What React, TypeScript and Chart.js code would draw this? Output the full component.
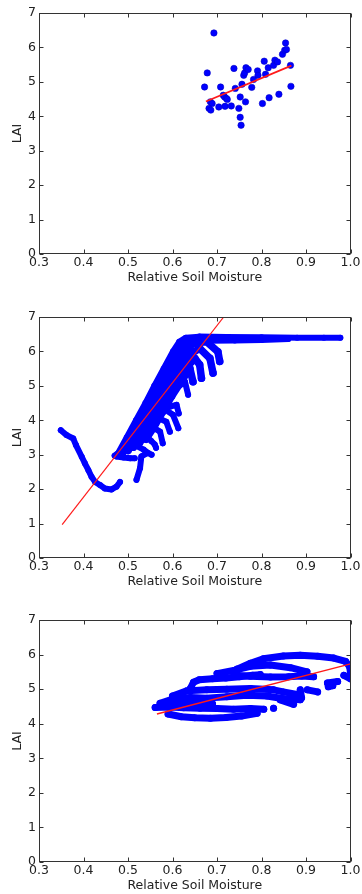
import React, { useEffect, useRef } from "react";
import { Chart, registerables } from "chart.js";

Chart.register(...registerables);

type P = [number, number];

// ---------- shared axis definitions ----------
const X_TICKS = [0.3, 0.4, 0.5, 0.6, 0.7, 0.8, 0.9, 1.0];
const Y_TICKS = [0, 1, 2, 3, 4, 5, 6, 7];
const X_TITLE = "Relative Soil Moisture";
const Y_TITLE = "LAI";

// ---------- panel 1 ----------
const P1_POINTS: P[] = [
  [0.693, 6.42], [0.678, 5.26], [0.672, 4.85], [0.685, 4.42], [0.689, 4.37],
  [0.682, 4.23], [0.686, 4.18], [0.708, 4.85], [0.704, 4.27], [0.714, 4.61],
  [0.717, 4.56], [0.721, 4.52], [0.723, 4.49], [0.718, 4.29], [0.732, 4.30],
  [0.738, 5.39], [0.741, 4.81], [0.749, 4.23], [0.752, 4.56], [0.752, 3.97],
  [0.754, 3.74], [0.756, 4.93], [0.760, 5.19], [0.762, 5.26], [0.765, 5.41],
  [0.770, 5.36], [0.764, 4.42], [0.778, 4.84], [0.782, 5.07], [0.791, 5.32],
  [0.792, 5.19], [0.806, 5.60], [0.809, 5.22], [0.815, 5.41], [0.802, 4.37],
  [0.817, 4.54], [0.827, 5.48], [0.830, 5.63], [0.836, 5.58], [0.839, 4.64],
  [0.847, 5.80], [0.852, 5.92], [0.854, 6.13], [0.856, 5.94], [0.865, 5.48],
  [0.866, 4.87],
];
const P1_FIT: P[] = [[0.675, 4.43], [0.867, 5.47]];

// ---------- panel 2 (trajectories) ----------
const P2_TAIL: P[] = [
  [0.349, 3.71], [0.362, 3.57], [0.377, 3.47], [0.383, 3.28], [0.396, 2.94],
  [0.403, 2.75], [0.411, 2.55], [0.418, 2.36], [0.426, 2.21], [0.437, 2.12],
  [0.448, 2.02], [0.463, 1.99], [0.474, 2.07], [0.482, 2.21],
];
const P2_FLAT: P[] = [[0.474, 2.95], [0.490, 2.92], [0.505, 2.90], [0.515, 2.90]];
const P2_LOW: P[] = [[0.542, 3.04], [0.530, 2.95], [0.527, 2.61], [0.519, 2.27]];
const P2_EDGE: P[] = [
  [0.470, 2.97], [0.478, 3.05], [0.497, 3.50], [0.518, 4.00], [0.539, 4.50],
  [0.559, 5.00], [0.580, 5.50], [0.601, 6.00], [0.615, 6.28], [0.630, 6.40],
  [0.660, 6.43], [0.720, 6.42], [0.800, 6.41], [0.880, 6.40], [0.940, 6.40], [0.977, 6.40],
];
const P2_PLATEAU: P[] = [[0.630, 6.30], [0.680, 6.31], [0.740, 6.32], [0.800, 6.33], [0.860, 6.36]];
const P2_A: P[] = [
  [0.489, 3.08], [0.509, 3.52], [0.530, 4.02], [0.551, 4.49], [0.571, 4.98],
  [0.592, 5.47], [0.613, 5.95], [0.628, 6.25], [0.645, 6.36],
];
const P2_B: P[] = [
  [0.500, 3.12], [0.521, 3.55], [0.542, 4.05], [0.563, 4.52], [0.583, 5.00],
  [0.604, 5.45], [0.625, 5.92], [0.645, 6.22], [0.676, 6.29], [0.702, 5.99], [0.706, 5.71],
];
const P2_C: P[] = [
  [0.512, 3.22], [0.533, 3.62], [0.554, 4.08], [0.575, 4.55], [0.595, 5.02],
  [0.616, 5.48], [0.637, 5.90], [0.661, 6.09], [0.684, 5.80], [0.691, 5.37],
];
const P2_D: P[] = [
  [0.526, 3.35], [0.546, 3.75], [0.566, 4.15], [0.587, 4.62], [0.607, 5.05],
  [0.628, 5.48], [0.650, 5.80], [0.661, 5.61], [0.665, 5.22],
];
const P2_E: P[] = [
  [0.540, 3.45], [0.558, 3.80], [0.578, 4.25], [0.598, 4.70], [0.618, 5.10],
  [0.639, 5.51], [0.646, 5.12],
];
const P2_H1: P[] = [[0.610, 4.95], [0.628, 5.12], [0.635, 4.74]];
const P2_H2: P[] = [[0.595, 4.40], [0.609, 4.45], [0.614, 4.20]];
const P2_H3: P[] = [[0.585, 4.30], [0.601, 4.16], [0.613, 3.77]];
const P2_H4: P[] = [[0.570, 4.05], [0.586, 3.96], [0.594, 3.67]];
const P2_H5: P[] = [[0.555, 3.80], [0.572, 3.67], [0.578, 3.33]];
const P2_H6: P[] = [[0.540, 3.55], [0.552, 3.40], [0.560, 3.30], [0.563, 3.20]];
const P2_H7: P[] = [[0.520, 3.25], [0.535, 3.15], [0.545, 3.05], [0.553, 3.00]];
const P2_FIT: P[] = [[0.352, 0.97], [0.715, 7.0]];

// ---------- panel 3 (trajectories) ----------
const P3_ARC: P[] = [
  [0.745, 5.58], [0.775, 5.75], [0.804, 5.88], [0.849, 5.96], [0.887, 5.98],
  [0.926, 5.95], [0.962, 5.90], [0.989, 5.80], [0.998, 5.65], [1.0, 5.46], [0.996, 5.36],
];
const P3_LOOP_TOP: P[] = [[0.700, 5.45], [0.740, 5.55], [0.775, 5.66], [0.820, 5.70], [0.865, 5.62], [0.902, 5.50]];
const P3_LOOP_BOT: P[] = [[0.740, 5.40], [0.775, 5.37], [0.820, 5.35], [0.860, 5.36], [0.890, 5.38], [0.917, 5.36]];
const P3_BAND53: P[] = [[0.640, 5.02], [0.647, 5.20], [0.660, 5.27], [0.690, 5.30], [0.720, 5.32], [0.750, 5.36], [0.780, 5.40], [0.797, 5.42]];
const P3_BAND50: P[] = [[0.600, 4.80], [0.632, 4.95], [0.677, 4.98], [0.722, 5.00], [0.775, 5.02], [0.827, 4.98], [0.849, 4.92], [0.880, 4.85]];
const P3_BAND48: P[] = [[0.572, 4.59], [0.602, 4.72], [0.640, 4.76], [0.677, 4.74], [0.722, 4.78], [0.767, 4.82], [0.812, 4.80], [0.850, 4.72], [0.887, 4.69]];
const P3_BAND46: P[] = [[0.600, 4.60], [0.640, 4.60], [0.690, 4.57]];
const P3_BAND45: P[] = [[0.561, 4.47], [0.595, 4.48], [0.625, 4.46], [0.662, 4.45], [0.700, 4.44], [0.737, 4.42], [0.775, 4.44], [0.805, 4.42]];
const P3_BAND42: P[] = [[0.590, 4.28], [0.620, 4.20], [0.650, 4.17], [0.685, 4.16], [0.720, 4.18], [0.755, 4.22], [0.790, 4.30]];
const P3_R1: P[] = [[0.903, 4.98], [0.926, 4.92]];
const P3_R2: P[] = [[0.887, 4.98], [0.890, 4.75]];
const P3_R3: P[] = [[0.842, 4.69], [0.872, 4.56]];
const P3_R4: P[] = [[0.948, 5.18], [0.971, 5.22]];
const P3_R5: P[] = [[0.950, 5.07], [0.960, 5.10]];
const P3_R6: P[] = [[0.985, 5.40], [1.0, 5.30]];
const P3_DOT: P[] = [[0.827, 4.45]];
const P3_FIT: P[] = [[0.565, 4.28], [1.0, 5.73]];

// ---------- styling ----------
const BLUE = "#0000ff";
const RED = "#ff1a1a";
const TEXT = "#222222";
const FONT = { family: "'DejaVu Sans', sans-serif", size: 12.5 };

const pts = (d: P[]) => d.map(([x, y]) => ({ x, y }));

function scatterSet(d: P[]) {
  return {
    data: pts(d),
    showLine: false,
    pointRadius: 3.2,
    pointBackgroundColor: BLUE,
    pointBorderColor: "#0000c8",
    pointBorderWidth: 0.6,
    order: 1,
    clip: 0,
  };
}

function trajSet(d: P[], w: number) {
  return {
    data: pts(d),
    showLine: true,
    borderColor: BLUE,
    backgroundColor: BLUE,
    borderWidth: w,
    borderCapStyle: "round",
    borderJoinStyle: "round",
    pointRadius: w / 2,
    pointBorderWidth: 0,
    pointBackgroundColor: BLUE,
    tension: 0,
    order: 1,
    clip: 0,
  };
}

function fitSet(d: P[], w: number) {
  return {
    data: pts(d),
    showLine: true,
    borderColor: RED,
    borderWidth: w,
    pointRadius: 0,
    order: 0,
    clip: 0,
  };
}

const framePlugin = {
  id: "mplFrame",
  afterDatasetsDraw(chart: any) {
    const { ctx, chartArea: a, scales } = chart;
    ctx.save();
    ctx.strokeStyle = "#333333";
    ctx.lineWidth = 1;
    const L = Math.round(a.left) + 0.5;
    const R = Math.round(a.right) - 0.5;
    const T = Math.round(a.top) + 0.5;
    const B = Math.round(a.bottom) - 0.5;
    ctx.strokeRect(L, T, R - L, B - T);
    const len = 4;
    ctx.beginPath();
    X_TICKS.forEach((v) => {
      const x = Math.round(scales.x.getPixelForValue(v)) + 0.5;
      ctx.moveTo(x, B);
      ctx.lineTo(x, B - len);
      ctx.moveTo(x, T);
      ctx.lineTo(x, T + len);
    });
    Y_TICKS.forEach((v) => {
      const y = Math.round(scales.y.getPixelForValue(v)) + 0.5;
      ctx.moveTo(L, y);
      ctx.lineTo(L + len, y);
      ctx.moveTo(R, y);
      ctx.lineTo(R - len, y);
    });
    ctx.stroke();
    ctx.restore();
  },
};

function makeConfig(datasets: any[], plotTop: number, axisH: number): any {
  const lineH = FONT.size * 1.2;
  return {
    type: "scatter",
    data: { datasets },
    options: {
      animation: false,
      responsive: false,
      events: [],
      layout: { padding: { left: 0, right: 11, top: plotTop, bottom: 0 } },
      plugins: { legend: { display: false }, tooltip: { enabled: false } },
      scales: {
        x: {
          type: "linear",
          min: 0.3,
          max: 1.0,
          afterBuildTicks: (s: any) => {
            s.ticks = X_TICKS.map((v) => ({ value: v }));
          },
          afterFit: (s: any) => {
            s.height = axisH;
          },
          grid: { display: false, drawTicks: false },
          border: { display: false },
          ticks: {
            padding: 1.5,
            color: TEXT,
            font: FONT,
            autoSkip: false,
            maxRotation: 0,
            callback: (v: any) => Number(v).toFixed(1),
          },
          title: {
            display: true,
            text: X_TITLE,
            color: TEXT,
            font: FONT,
            padding: { top: 0, bottom: Math.max(0, axisH - 24 - lineH / 2) },
          },
        },
        y: {
          type: "linear",
          min: 0,
          max: 7,
          afterBuildTicks: (s: any) => {
            s.ticks = Y_TICKS.map((v) => ({ value: v }));
          },
          afterFit: (s: any) => {
            s.width = 39;
          },
          grid: { display: false, drawTicks: false },
          border: { display: false },
          ticks: {
            padding: 3,
            color: TEXT,
            font: FONT,
            callback: (v: any) => String(v),
          },
          title: {
            display: true,
            text: Y_TITLE,
            color: TEXT,
            font: FONT,
            padding: { top: 18 - lineH / 2, bottom: 0 },
          },
        },
      },
    },
    plugins: [framePlugin],
  };
}

function Panel(props: { top: number; height: number; plotTop: number; plotBottom: number; datasets: any[] }) {
  const ref = useRef<HTMLCanvasElement | null>(null);
  useEffect(() => {
    if (!ref.current) return;
    const chart = new Chart(ref.current, makeConfig(props.datasets, props.plotTop, props.height - props.plotBottom));
    return () => chart.destroy();
  }, []);
  return (
    <div style={{ position: "absolute", left: 0, top: props.top, width: 362, height: props.height }}>
      <canvas ref={ref} width={362} height={props.height} style={{ display: "block", width: 362, height: props.height }} />
    </div>
  );
}

export default function App() {
  const d1 = [scatterSet(P1_POINTS), fitSet(P1_FIT, 1.8)];
  const d2 = [
    ...[P2_TAIL, P2_FLAT, P2_LOW, P2_EDGE, P2_PLATEAU].map((t) => trajSet(t, 6)),
    ...[P2_A, P2_B, P2_C, P2_D, P2_E].map((t) => trajSet(t, 7.5)),
    ...[P2_H1, P2_H2, P2_H3, P2_H4, P2_H5, P2_H6, P2_H7].map((t) => trajSet(t, 6)),
    fitSet(P2_FIT, 1.2),
  ];
  const d3 = [
    ...[P3_ARC, P3_LOOP_TOP, P3_LOOP_BOT, P3_BAND53, P3_BAND50, P3_BAND48, P3_BAND46,
      P3_BAND45, P3_BAND42, P3_R1, P3_R2, P3_R3, P3_R4, P3_R5, P3_R6, P3_DOT].map((t) => trajSet(t, 7)),
    fitSet(P3_FIT, 1.4),
  ];
  return (
    <div style={{ position: "absolute", left: 0, top: 0, width: 362, height: 894, background: "#ffffff", overflow: "hidden" }}>
      <Panel top={0} height={295} plotTop={13} plotBottom={254} datasets={d1} />
      <Panel top={295} height={304} plotTop={22} plotBottom={263} datasets={d2} />
      <Panel top={599} height={295} plotTop={21} plotBottom={263} datasets={d3} />
    </div>
  );
}
